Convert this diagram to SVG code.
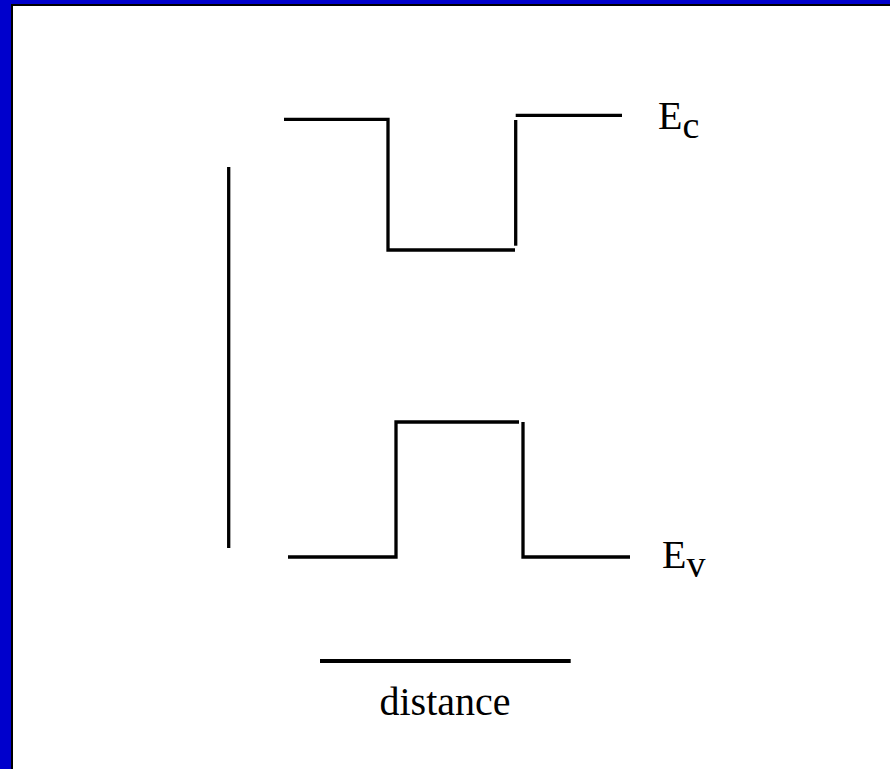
<svg xmlns="http://www.w3.org/2000/svg" width="890" height="769" viewBox="0 0 890 769">
<style>
.ln{stroke:#000;stroke-width:3.3;fill:none;stroke-linecap:butt}
.t{font-family:'Liberation Serif','Times New Roman',serif;font-size:40px;fill:#000}
</style>
<rect x="0" y="0" width="890" height="769" fill="#0000CC"/>
<rect x="11" y="4" width="890" height="780" fill="#fff"/>
<path d="M12 785 V5 H891" fill="none" stroke="#000" stroke-width="2"/>
<g id="axis-energy"><line class="ln" x1="228.7" y1="167" x2="228.7" y2="548"/></g>
<g id="conduction-band">
<path class="ln" d="M284 119.3 H388 V250 H515"/>
<path class="ln" d="M515.7 120 V245.7"/>
<path class="ln" d="M515.7 115.3 H622"/>
</g>
<g id="valence-band">
<path class="ln" d="M288 557 H396 V422 H519"/>
<path class="ln" d="M523 422 V557 H630"/>
</g>
<g id="axis-distance"><line class="ln" x1="320" y1="661" x2="570.7" y2="661" style="stroke-width:3.8"/></g>
<g id="label-ec"><text class="t" x="658" y="129">E<tspan font-size="38" dy="9">c</tspan></text></g>
<g id="label-ev"><text class="t" x="662" y="568">E<tspan font-size="38" dy="9">v</tspan></text></g>
<g id="label-distance"><text class="t" x="445" y="715" text-anchor="middle">distance</text></g>
</svg>
